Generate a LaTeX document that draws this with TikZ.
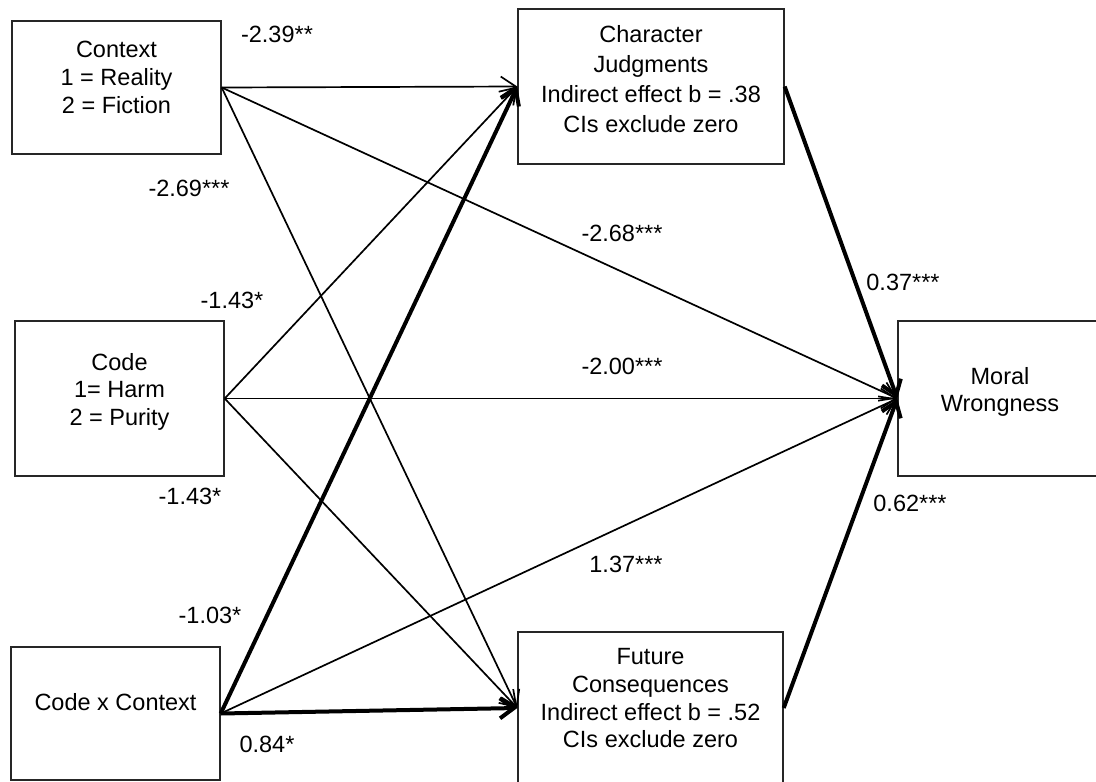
\documentclass[tikz,border=0pt]{standalone}
\usepackage{fontspec}
\setmainfont{Liberation Sans}
\usetikzlibrary{arrows.meta}
\tikzset{
    varbox/.style={
        rectangle,
        draw=black!85,
        line width=1.4pt,
        inner sep=0pt
    },
    vartext/.style={
        align=center,
        anchor=north,
        inner sep=0pt,
        font=\fontsize{23.5}{27.7}\selectfont
    },
    coef/.style={inner sep=0pt, font=\fontsize{23.5}{27.7}\selectfont},
    patharrow/.style={-{Straight Barb[length=15pt,width=20pt]}, line width=1.7pt},
    strongarrow/.style={-{Straight Barb[length=14pt,width=20pt]}, line width=4pt}
}
\begin{document}
\begin{tikzpicture}[x=1pt, y=-1pt]
        \useasboundingbox (0,0) rectangle (1096,782);

        % predictors
        \node[varbox, minimum width=209pt, minimum height=133pt] (context) at (116.5,87.5) {};
        \node[varbox, minimum width=209pt, minimum height=155pt] (code) at (119.5,398.5) {};
        \node[varbox, minimum width=209pt, minimum height=133pt] (interact) at (115.5,713.5) {};

        % mediators and outcome
        \node[varbox, minimum width=266pt, minimum height=155pt] (charj) at (651,86.5) {};
        \node[varbox, minimum width=265pt, minimum height=152pt] (future) at (650.5,708) {};
        \node[varbox, minimum width=204pt, minimum height=155pt] (moral) at (1000,398.5) {};

        \node[vartext] (contexttext) at (116.5,41.3) {Context\\1 = Reality\\2 = Fiction};
        \node[vartext] (codetext) at (119.5,353) {Code\\1= Harm\\2 = Purity};
        \node[vartext] (interacttext) at (115.5,693) {Code x Context};
        \node[vartext, font=\fontsize{23.5}{29.7}\selectfont] (charjtext) at (651,25.7) {Character\\Judgments\\Indirect effect b = .38\\CIs exclude zero};
        \node[vartext] (futuretext) at (650.5,648.5) {Future\\Consequences\\Indirect effect b = .52\\CIs exclude zero};
        \node[vartext] (moraltext) at (1000,367) {Moral\\Wrongness};

        \draw[patharrow] (context.east) -- (charj.west);
        \draw[patharrow] (context.east) -- (moral.west);
        \draw[patharrow] (context.east) -- (future.west);
        \draw[patharrow] (code.east) -- (charj.west);
        \draw[patharrow] (code.east) -- (moral.west);
        \draw[patharrow] (code.east) -- (future.west);
        \draw[patharrow] (interact.east) -- (moral.west);
        \draw[strongarrow] (interact.east) -- (charj.west);
        \draw[strongarrow] (interact.east) -- (future.west);
        \draw[strongarrow] (charj.east) -- (moral.west);
        \draw[strongarrow] (future.east) -- (moral.west);

        % path coefficients
        \node[coef] (c1) at (277,34) {-2.39**};
        \node[coef] (c2) at (189,188) {-2.69***};
        \node[coef] (c3) at (232,300) {-1.43*};
        \node[coef] (c4) at (190,496) {-1.43*};
        \node[coef] (c5) at (210,615) {-1.03*};
        \node[coef] (c6) at (267,744) {0.84*};
        \node[coef] (c7) at (622,233) {-2.68***};
        \node[coef] (c8) at (622,366) {-2.00***};
        \node[coef] (c9) at (626,564) {1.37***};
        \node[coef] (c10) at (903,282) {0.37***};
        \node[coef] (c11) at (910,503) {0.62***};
    \end{tikzpicture}
\end{document}
